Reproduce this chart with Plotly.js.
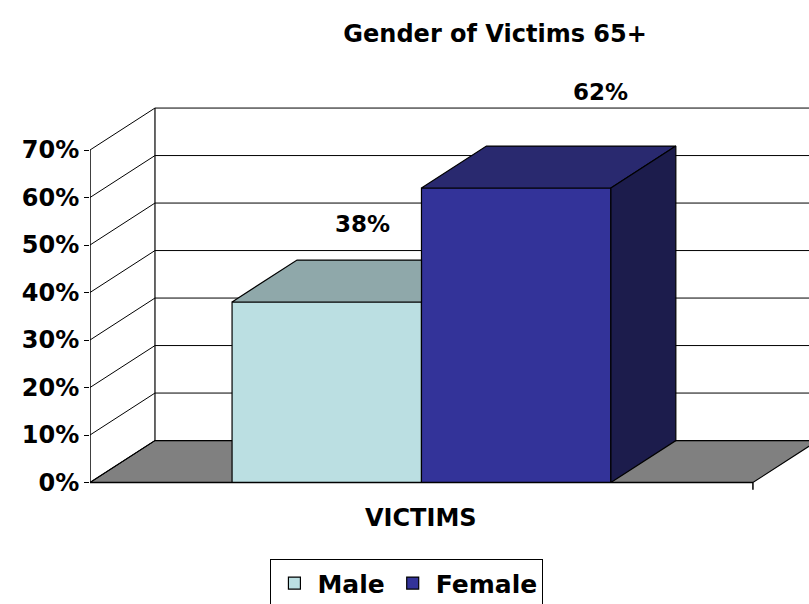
<!DOCTYPE html>
<html>
<head>
<meta charset="utf-8">
<script src="https://cdn.plot.ly/plotly-3.0.1.min.js"></script>
<style>html,body{margin:0;padding:0;background:#fff;}#chart{width:809px;height:604px;}</style>
</head>
<body>
<div id="chart"></div>
<script>
// ---- data ----
const chartTitle = 'Gender of Victims 65+';
const categoryTitle = 'VICTIMS';
const categories = ['Male', 'Female'];
const values = [38, 62];
const valueLabels = ['38%', '62%'];
const yTickVals = [0, 10, 20, 30, 40, 50, 60, 70];
const yTickText = ['0%', '10%', '20%', '30%', '40%', '50%', '60%', '70%'];

// ---- styling / 3D geometry (not data) ----
const frontColors = ['#BBDFE2', '#333399'];
const topColors = ['#8FA8AA', '#29296F'];
const sideColors = ['#6E8385', '#1C1C4C'];
const floorColor = '#808080';
const DX = 0.343;      // depth offset along x (category units)
const DY = 8.83;       // depth offset along y (percent units)
const X0 = -1.25, X1 = 2.25;  // front extent of the category axis
const BW = 1;          // bar width
const labelDx = [0.187, 0.444];
const labelDy = [7.6, 11.4];
const FONT = {family: 'DejaVu Sans, Arial, sans-serif', weight: 'bold', color: '#000'};
const yMax = yTickVals[yTickVals.length - 1];

const traces = [];
// front faces as bars
categories.forEach((c, i) => {
  traces.push({
    type: 'bar', name: c, x: [i], y: [values[i]], width: [BW],
    marker: {color: frontColors[i], line: {color: '#000', width: 1.2}},
    hoverinfo: 'skip', showlegend: true
  });
});
// top and side faces
categories.forEach((c, i) => {
  const v = values[i];
  const xl = i - BW / 2, xr = i + BW / 2;
  let backRight = xr + DX;
  const nextTaller = i < values.length - 1 && values[i + 1] > v;
  if (nextTaller) backRight = Math.min(backRight, (i + 1) - BW / 2);
  const topX = [xl, xl + DX, backRight, nextTaller ? backRight : xr + DX, xr, xl];
  const topY = [v, v + DY, v + DY, v + DY, v, v];
  traces.push({
    type: 'scatter', mode: 'lines', x: topX, y: topY, fill: 'toself',
    fillcolor: topColors[i], line: {color: '#000', width: 1.2},
    hoverinfo: 'skip', showlegend: false
  });
  if (!nextTaller) {
    traces.push({
      type: 'scatter', mode: 'lines',
      x: [xr, xr + DX, xr + DX, xr, xr],
      y: [0, DY, v + DY, v, 0], fill: 'toself',
      fillcolor: sideColors[i], line: {color: '#000', width: 1.2},
      hoverinfo: 'skip', showlegend: false
    });
  }
});
// front axis lines
traces.push({
  type: 'scatter', mode: 'lines',
  x: [X0, X0, null, X0, X1, null, X1, X1],
  y: [yMax, 0, null, 0, 0, null, 0, -1.5],
  line: {color: '#000', width: 1.5}, hoverinfo: 'skip', showlegend: false
});

// walls / floor / grid (drawn beneath the bars)
const shapes = [];
shapes.push({
  type: 'path', xref: 'x', yref: 'y', layer: 'below',
  path: `M${X0},0 L${X0 + DX},${DY} L${X1 + DX},${DY} L${X1},0 Z`,
  fillcolor: floorColor, line: {color: '#000', width: 1.2}
});
yTickVals.forEach(v => {
  shapes.push({type: 'line', xref: 'x', yref: 'y', layer: 'below',
    x0: X0 + DX, x1: X1 + DX, y0: v + DY, y1: v + DY, line: {color: '#000', width: 1}});
  shapes.push({type: 'line', xref: 'x', yref: 'y', layer: 'below',
    x0: X0, x1: X0 + DX, y0: v, y1: v + DY, line: {color: '#000', width: 1}});
});
shapes.push({type: 'line', xref: 'x', yref: 'y', layer: 'below',
  x0: X0 + DX, x1: X0 + DX, y0: DY, y1: yMax + DY, line: {color: '#000', width: 1.2}});

const annotations = values.map((v, i) => ({
  xref: 'x', yref: 'y', x: i + labelDx[i], y: v + DY + labelDy[i],
  text: valueLabels[i], showarrow: false, xanchor: 'center', yanchor: 'middle',
  font: Object.assign({}, FONT, {size: 23})
}));
annotations.push({
  xref: 'x', yref: 'y', x: (X0 + X1) / 2, y: -7.5, text: categoryTitle,
  showarrow: false, xanchor: 'center', yanchor: 'middle',
  font: Object.assign({}, FONT, {size: 24})
});

const layout = {
  width: 809, height: 604, autosize: false,
  margin: {l: 90, r: 0, t: 74, b: 74, pad: 0, autoexpand: false},
  paper_bgcolor: '#fff', plot_bgcolor: 'rgba(0,0,0,0)',
  title: {text: chartTitle, x: 0.612, xref: 'container', xanchor: 'center',
    y: 0.945, yref: 'container', yanchor: 'middle',
    font: Object.assign({}, FONT, {size: 24})},
  barmode: 'overlay',
  xaxis: {range: [X0, 2.546], showgrid: false, zeroline: false, showticklabels: false,
    ticks: '', showline: false, fixedrange: true},
  yaxis: {range: [-10, 86], tickvals: yTickVals, ticktext: yTickText, ticks: 'outside',
    ticklen: 5, tickwidth: 1, tickcolor: '#000', showgrid: false, zeroline: false,
    showline: false, fixedrange: true, tickfont: Object.assign({}, FONT, {size: 24})},
  legend: {orientation: 'h', xref: 'container', x: 0.503, xanchor: 'center',
    yref: 'container', y: 0.074, yanchor: 'top',
    bordercolor: '#000', borderwidth: 1, bgcolor: '#fff', itemwidth: 36,
    font: Object.assign({}, FONT, {size: 25}), traceorder: 'normal'},
  shapes: shapes,
  annotations: annotations,
  showlegend: true
};

Plotly.newPlot('chart', traces, layout, {staticPlot: true, displayModeBar: false});
</script>
</body>
</html>
